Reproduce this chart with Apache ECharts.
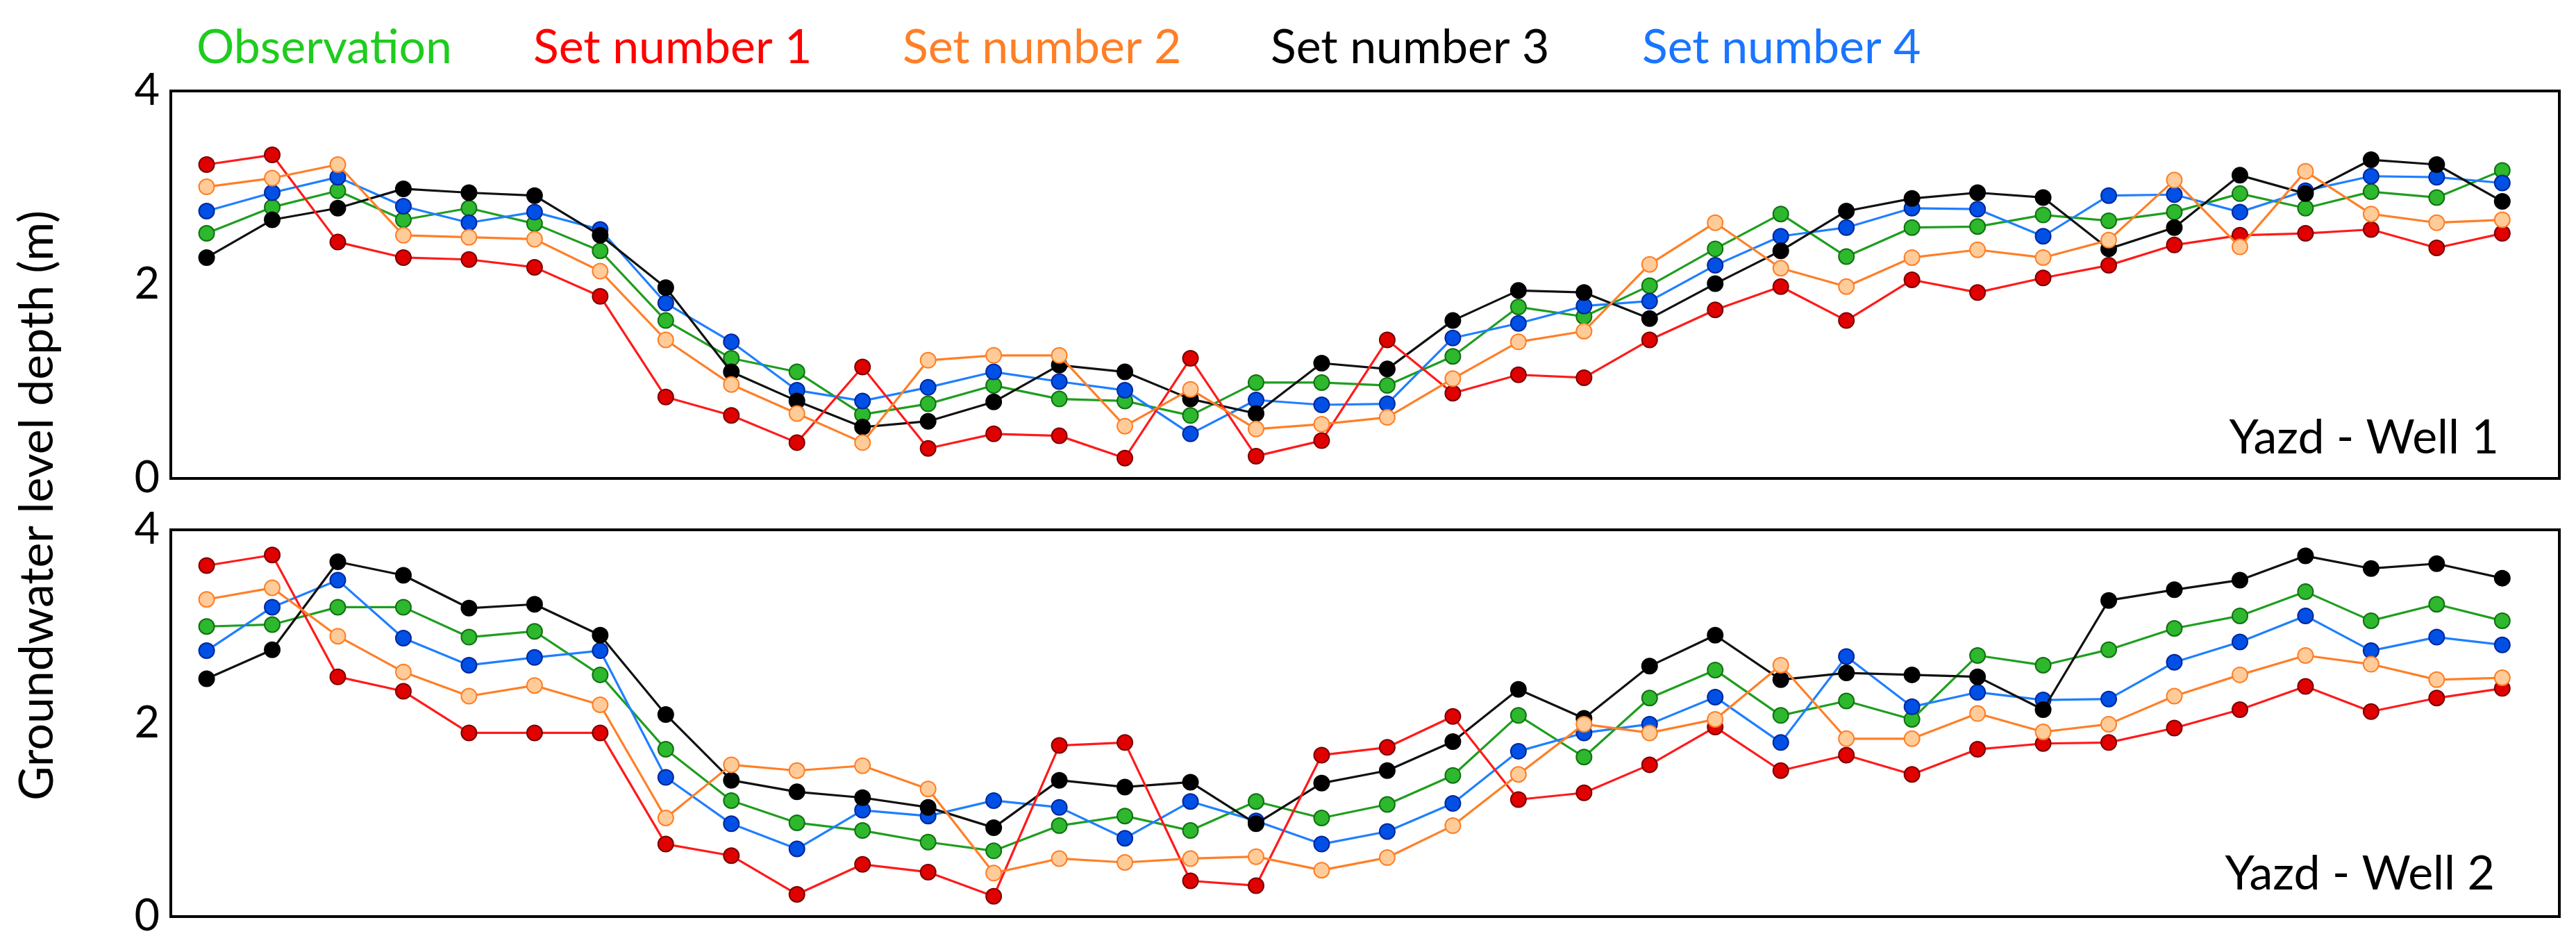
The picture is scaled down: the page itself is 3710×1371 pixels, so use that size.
<!DOCTYPE html>
<html>
<head>
<meta charset="utf-8">
<script src="https://cdn.jsdelivr.net/npm/echarts@6/dist/echarts.min.js"></script>
<style>
html,body{margin:0;padding:0;background:#ffffff;}
#chart{width:3710px;height:1371px;}
</style>
</head>
<body>
<div id="chart"></div>
<script>
// ---------------- DATA ----------------
const months = [1,2,3,4,5,6,7,8,9,10,11,12,13,14,15,16,17,18,19,20,21,22,23,24,25,26,27,28,29,30,31,32,33,34,35,36];
const seriesNames = ['Observation','Set number 1','Set number 2','Set number 3','Set number 4'];
const yTickValues = [0, 2, 4];
const panelTitles = ['Yazd - Well 1', 'Yazd - Well 2'];
const yAxisTitle = 'Groundwater level depth (m)';

// Yazd - Well 1
const well1Obs  = [2.53,2.80,2.97,2.67,2.79,2.63,2.35,1.63,1.24,1.10,0.66,0.77,0.96,0.82,0.80,0.65,0.99,0.99,0.96,1.26,1.77,1.67,1.99,2.37,2.73,2.29,2.59,2.60,2.72,2.66,2.75,2.94,2.79,2.96,2.90,3.18];
const well1Set1 = [3.24,3.34,2.44,2.28,2.26,2.18,1.88,0.84,0.65,0.37,1.15,0.31,0.46,0.44,0.21,1.24,0.23,0.39,1.43,0.88,1.07,1.04,1.43,1.74,1.98,1.63,2.05,1.92,2.07,2.20,2.41,2.51,2.53,2.57,2.38,2.53];
const well1Set2 = [3.01,3.10,3.24,2.51,2.49,2.47,2.14,1.43,0.97,0.67,0.37,1.22,1.27,1.27,0.54,0.92,0.51,0.56,0.63,1.03,1.41,1.52,2.21,2.64,2.17,1.98,2.28,2.36,2.28,2.46,3.08,2.39,3.17,2.73,2.64,2.67];
const well1Set3 = [2.28,2.67,2.79,2.99,2.95,2.92,2.51,1.97,1.10,0.80,0.53,0.59,0.79,1.17,1.10,0.82,0.67,1.19,1.13,1.63,1.94,1.92,1.65,2.01,2.35,2.76,2.89,2.95,2.90,2.37,2.59,3.13,2.94,3.29,3.24,2.86];
const well1Set4 = [2.76,2.95,3.11,2.81,2.64,2.75,2.57,1.81,1.41,0.91,0.80,0.94,1.10,1.00,0.91,0.46,0.81,0.76,0.77,1.45,1.60,1.78,1.83,2.20,2.50,2.59,2.79,2.78,2.50,2.92,2.93,2.75,2.97,3.12,3.11,3.05];

// Yazd - Well 2
const well2Obs  = [3.00,3.02,3.20,3.20,2.89,2.95,2.50,1.73,1.20,0.97,0.89,0.77,0.68,0.94,1.04,0.89,1.19,1.02,1.16,1.46,2.08,1.65,2.26,2.55,2.08,2.23,2.04,2.70,2.60,2.76,2.98,3.11,3.36,3.06,3.23,3.06];
const well2Set1 = [3.63,3.74,2.48,2.33,1.90,1.90,1.90,0.75,0.63,0.23,0.54,0.46,0.21,1.77,1.80,0.37,0.32,1.67,1.75,2.07,1.21,1.28,1.57,1.96,1.51,1.67,1.47,1.73,1.79,1.80,1.95,2.14,2.38,2.12,2.26,2.36];
const well2Set2 = [3.28,3.40,2.90,2.53,2.28,2.39,2.19,1.02,1.57,1.51,1.56,1.32,0.45,0.60,0.56,0.60,0.62,0.48,0.61,0.94,1.47,1.99,1.90,2.04,2.60,1.84,1.84,2.10,1.91,1.99,2.28,2.50,2.70,2.61,2.45,2.47];
const well2Set3 = [2.46,2.76,3.67,3.53,3.19,3.23,2.91,2.09,1.41,1.29,1.23,1.13,0.92,1.41,1.34,1.39,0.96,1.38,1.51,1.81,2.35,2.05,2.59,2.91,2.45,2.52,2.50,2.48,2.14,3.27,3.38,3.48,3.73,3.60,3.65,3.50];
const well2Set4 = [2.75,3.20,3.48,2.88,2.60,2.68,2.75,1.44,0.96,0.70,1.10,1.04,1.20,1.13,0.81,1.19,0.99,0.75,0.88,1.17,1.71,1.90,1.99,2.27,1.80,2.69,2.17,2.32,2.24,2.25,2.63,2.84,3.11,2.75,2.89,2.81];

// ---------------- STYLE ----------------
const FONT = 'Lato';
const styles = {
  'Observation':  {line:'#1f9e1f', fill:'#2db82d', border:'#127012', text:'#1ecc1e'},
  'Set number 1': {line:'#ff1a1a', fill:'#e00000', border:'#7a0000', text:'#ff0000'},
  'Set number 2': {line:'#ff7f27', fill:'#ffcc99', border:'#ff7f27', text:'#ff7f27'},
  'Set number 3': {line:'#111111', fill:'#000000', border:'#000000', text:'#000000'},
  'Set number 4': {line:'#1f7fff', fill:'#0050e6', border:'#00279a', text:'#1a75ff'}
};
const drawOrder = ['Observation','Set number 4','Set number 3','Set number 1','Set number 2'];

const panels = [
  {title: panelTitles[0], data: {'Observation':well1Obs,'Set number 1':well1Set1,'Set number 2':well1Set2,'Set number 3':well1Set3,'Set number 4':well1Set4}},
  {title: panelTitles[1], data: {'Observation':well2Obs,'Set number 1':well2Set1,'Set number 2':well2Set2,'Set number 3':well2Set3,'Set number 4':well2Set4}}
];

const grids = [
  {left:246, top:131, width:3440, height:558},
  {left:246, top:763, width:3440, height:557}
];

const series = [];
panels.forEach((p, gi) => {
  drawOrder.forEach((name, si) => {
    const st = styles[name];
    series.push({
      name: name,
      type: 'line',
      xAxisIndex: gi,
      yAxisIndex: gi,
      data: months.map((m, i) => [m, p.data[name][i]]),
      symbol: 'circle',
      symbolSize: 22,
      z: 2 + si,
      lineStyle: {color: st.line, width: 3.2},
      itemStyle: {color: st.fill, borderColor: st.border, borderWidth: 2},
      emphasis: {disabled: true},
      animation: false
    });
  });
});

const legendLefts = [272, 757, 1289, 1819, 2354];
const legends = seriesNames.map((n, i) => ({
  data: [{name: n, textStyle: {color: styles[n].text}}],
  left: legendLefts[i],
  top: 30,
  itemWidth: 0,
  itemHeight: 0,
  itemGap: 0,
  selectedMode: false,
  textStyle: {fontFamily: FONT, fontSize: 68, padding: 0}
}));

const option = {
  backgroundColor: '#ffffff',
  animation: false,
  legend: legends,
  title: [
    {text: panels[0].title, right: 106, top: 592, textStyle: {fontFamily: FONT, fontSize: 68, fontWeight: 'normal', color: '#000'}},
    {text: panels[1].title, right: 112, top: 1220, textStyle: {fontFamily: FONT, fontSize: 68, fontWeight: 'normal', color: '#000'}}
  ],
  grid: grids.map(g => Object.assign({show: true, borderColor: '#000', borderWidth: 4, backgroundColor: 'transparent'}, g)),
  xAxis: grids.map((g, i) => ({
    type: 'value', gridIndex: i, min: 0.454, max: 36.87,
    axisLine: {show: false}, axisTick: {show: false}, axisLabel: {show: false}, splitLine: {show: false}
  })),
  yAxis: grids.map((g, i) => ({
    type: 'value', gridIndex: i, min: yTickValues[0], max: yTickValues[yTickValues.length - 1], interval: 2,
    axisLine: {show: false}, axisTick: {show: false}, splitLine: {show: false},
    axisLabel: {fontFamily: FONT, fontSize: 63, color: '#000', margin: 16}
  })),
  graphic: [{
    type: 'text', x: 54, y: 728, rotation: Math.PI / 2,
    style: {text: yAxisTitle, fontFamily: FONT, fontSize: 68, fill: '#000', textAlign: 'center', textVerticalAlign: 'middle'}
  }],
  series: series
};

const chart = echarts.init(document.getElementById('chart'), null, {renderer: 'canvas'});
chart.setOption(option);
</script>
</body>
</html>
